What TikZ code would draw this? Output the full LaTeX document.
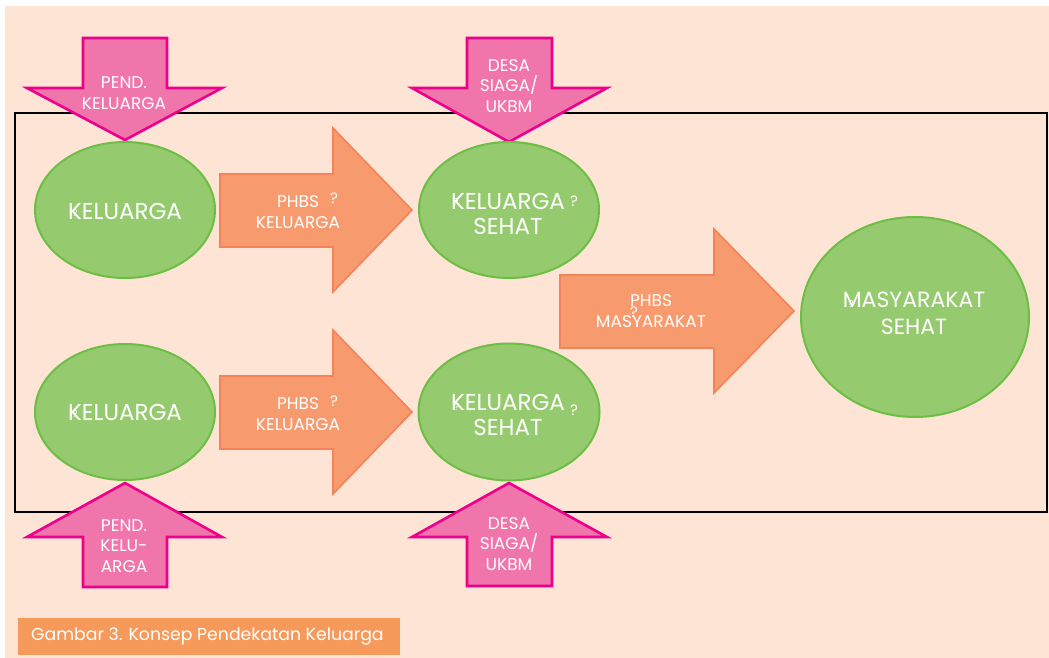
\documentclass[tikz,border=0pt]{standalone}
\usepackage{fontspec}
\setmainfont{Poppins}
\usetikzlibrary{shapes.geometric}
\definecolor{bgpeach}{HTML}{FDE4D4}
\definecolor{pinkfill}{HTML}{F075AA}
\definecolor{pinkline}{HTML}{EC008C}
\definecolor{greenfill}{HTML}{96CA6E}
\definecolor{greenline}{HTML}{6DBE45}
\definecolor{orangefill}{HTML}{F79A6E}
\definecolor{orangeline}{HTML}{F5835A}
\definecolor{capfill}{HTML}{F69A5C}
\tikzset{
  pinkarrow/.style={fill=pinkfill, draw=pinkline, line width=2.6pt, line join=miter},
  orangearrow/.style={fill=orangefill, draw=orangeline, line width=1.6pt, line join=miter},
  greenell/.style={ellipse, fill=greenfill, draw=greenline, line width=2pt, inner sep=0pt},
  smalltxt/.style={text=white, align=center, inner sep=0pt, font=\fontsize{17}{20.5}\selectfont},
  bigtxt/.style={text=white, align=center, inner sep=0pt, font=\fontsize{23}{24.5}\selectfont},
  qmark/.style={text=white, inner sep=0pt, font=\fontsize{15}{15}\selectfont},
  tinyq/.style={text=white, inner sep=0pt, font=\fontsize{10}{10}\selectfont},
}
\begin{document}
\begin{tikzpicture}[x=1pt,y=-1pt]
\useasboundingbox (0,0) rectangle (1049,658);
\fill[white] (0,0) rectangle (1049,658);
\fill[bgpeach] (5,6) rectangle (1049,658);
% frame
\draw[black, line width=1.6pt] (15,113) rectangle (1047,512);
% pink arrows
\draw[pinkarrow] (83,38) -- (167,38) -- (167,88) -- (222,88) -- (125,140) -- (27,88) -- (83,88) -- cycle;
\draw[pinkarrow] (467,38) -- (552,38) -- (552,88) -- (607,88) -- (509,142) -- (412,88) -- (467,88) -- cycle;
\draw[pinkarrow] (125,483) -- (222,537) -- (167,537) -- (167,587) -- (83,587) -- (83,537) -- (27,537) -- cycle;
\draw[pinkarrow] (509,483) -- (607,537) -- (552,537) -- (552,586) -- (467,586) -- (467,537) -- (412,537) -- cycle;
\node[smalltxt] (p1) at (124,93) {PEND.\\KELUARGA};
\node[smalltxt] (p2) at (509,86) {DESA\\SIAGA/\\UKBM};
\node[smalltxt] (p3) at (124,546) {PEND.\\KELU-\\ARGA};
\node[smalltxt] (p4) at (509,544) {DESA\\SIAGA/\\UKBM};
% orange arrows
\draw[orangearrow] (220,174) -- (333,174) -- (333,128) -- (412,210) -- (333,292) -- (333,247) -- (220,247) -- cycle;
\draw[orangearrow] (220,376) -- (333,376) -- (333,330) -- (412,412) -- (333,494) -- (333,449) -- (220,449) -- cycle;
\draw[orangearrow] (560,275) -- (714,275) -- (714,229) -- (794,311) -- (714,393) -- (714,348) -- (560,348) -- cycle;
\node[smalltxt] (o1) at (298,212) {PHBS\\KELUARGA};
\node[qmark] (q1) at (334,198) {?};
\node[smalltxt] (o2) at (298,414) {PHBS\\KELUARGA};
\node[qmark] (q2) at (334,401) {?};
\node[smalltxt] (o3) at (651,311) {PHBS\\MASYARAKAT};
\node[qmark] (q3) at (634,312) {?};
% ellipses
\node[greenell, minimum width=180pt, minimum height=136pt] (e1) at (125,210) {};
\node[bigtxt] (t1) at (125,211) {KELUARGA};
\node[tinyq] (k1) at (75,213) {?};
\node[greenell, minimum width=180pt, minimum height=136pt] (e2) at (509,210) {};
\node[bigtxt] (t2) at (508,214) {KELUARGA\\SEHAT};
\node[qmark] (q4) at (574,201) {?};
\node[tinyq] (k2) at (456,202) {?};
\node[greenell, minimum width=180pt, minimum height=136pt] (e3) at (125,412) {};
\node[bigtxt] (t3) at (125,412) {KELUARGA};
\node[tinyq] (k3) at (75,414) {?};
\node[greenell, minimum width=181pt, minimum height=137pt] (e4) at (509,412) {};
\node[bigtxt] (t4) at (508,415) {KELUARGA\\SEHAT};
\node[qmark] (q5) at (574,410) {?};
\node[tinyq] (k4) at (457,407) {?};
\node[greenell, minimum width=228pt, minimum height=200pt] (e5) at (915,317) {};
\node[bigtxt, font=\fontsize{22}{27}\selectfont] (t5) at (914,313) {MASYARAKAT\\SEHAT};
\node[tinyq] (k5) at (851,304) {?};
% caption
\fill[capfill] (18,618) rectangle (400,655);
\node[text=white, anchor=west, inner sep=0pt, font=\fontsize{17.3}{18}\selectfont] (cap) at (31,636) {Gambar 3. Konsep Pendekatan Keluarga};
\end{tikzpicture}
\end{document}
